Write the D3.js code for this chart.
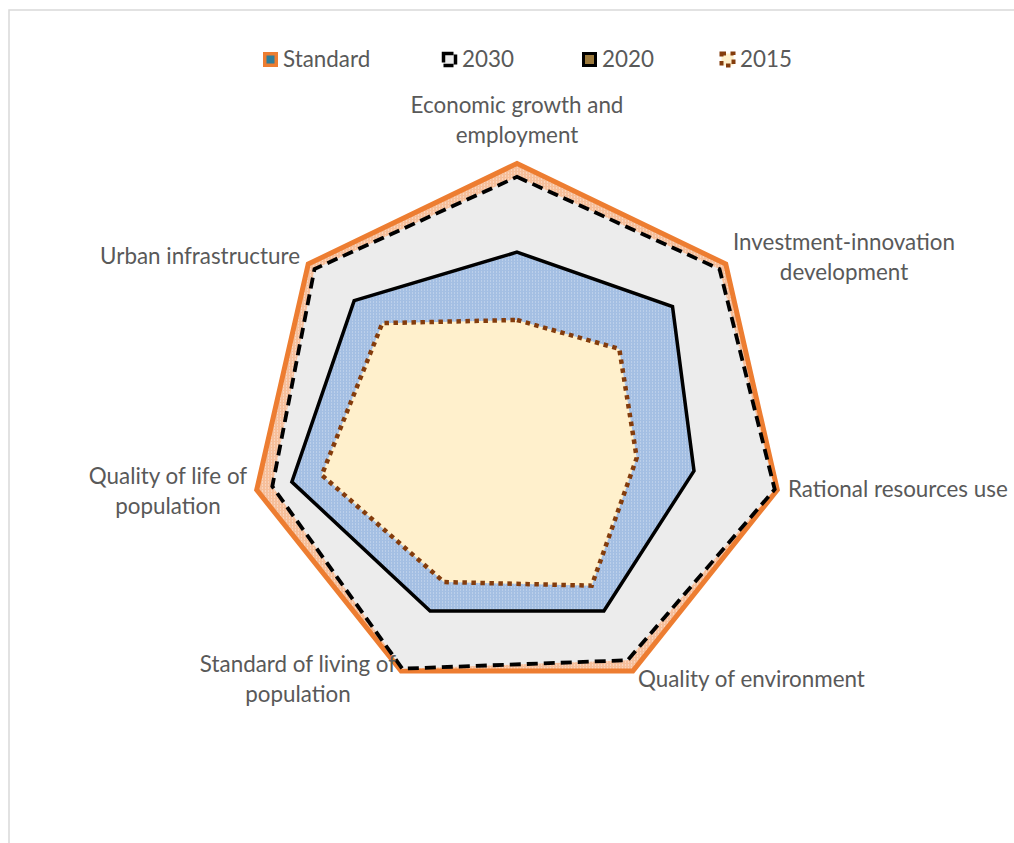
<!DOCTYPE html>
<html>
<head>
<meta charset="utf-8">
<script src="https://cdn.jsdelivr.net/npm/d3@7"></script>
<style>
  html, body { margin: 0; padding: 0; background: #ffffff; }
  svg { display: block; }
  text { font-family: Lato, "Open Sans", sans-serif; fill: #595959; }
</style>
</head>
<body>
<svg id="chart" width="1014" height="843"></svg>
<script>
// Axes of the indicator system, clockwise from the top
const axes = [
  ["Economic growth and", "employment"],
  ["Investment-innovation", "development"],
  ["Rational resources use"],
  ["Quality of environment"],
  ["Standard of living of", "population"],
  ["Quality of life of", "population"],
  ["Urban infrastructure"]
];

const seriesNames = ["Standard", "2030", "2020", "2015"];

// Normalised index values (standard = 1)
const standard = [1.00, 1.00, 1.00, 1.00, 1.00, 1.00, 1.00];
const y2030    = [0.95, 0.97, 0.99, 0.955, 0.99, 0.94, 0.97];
const y2020    = [0.668, 0.745, 0.68, 0.75, 0.75, 0.865, 0.78];
const y2015    = [0.414, 0.49, 0.46, 0.645, 0.63, 0.75, 0.645];

const svg = d3.select("#chart");
const cx = 517, cy = 430.5, R = 267;
const fontSize = "22.4px";

// frame of the chart area
svg.append("path")
  .attr("d", "M9,843 V10 H1014")
  .attr("fill", "none")
  .attr("stroke", "#d9d9d9")
  .attr("stroke-width", 1.5);

const r = d3.scaleLinear().domain([0, 1]).range([0, R]);
const angle = d3.scaleLinear().domain([0, axes.length]).range([0, 2 * Math.PI]);

const radial = d3.lineRadial()
  .angle((d, i) => angle(i))
  .radius(d => r(d))
  .curve(d3.curveLinearClosed);

const g = svg.append("g").attr("transform", `translate(${cx},${cy})`);

// textured fills
const defs = svg.append("defs");
function dotPattern(id, bg, dot) {
  const p = defs.append("pattern").attr("id", id)
    .attr("width", 3).attr("height", 3).attr("patternUnits", "userSpaceOnUse");
  p.append("rect").attr("width", 3).attr("height", 3).attr("fill", bg);
  p.append("rect").attr("width", 1).attr("height", 1).attr("fill", dot);
  return `url(#${id})`;
}
const orangeFill = dotPattern("pStd", "#f6bf9b", "#fde9dc");
const blueFill = dotPattern("p2020", "#a4bfe3", "#d2dff0");

const styles = [
  { data: standard, fill: orangeFill, stroke: "#ed7d31", width: 5, dash: null },
  { data: y2030, fill: "#ececec", stroke: "#000000", width: 3.8, dash: "11,6" },
  { data: y2020, fill: blueFill, stroke: "#000000", width: 3.5, dash: null },
  { data: y2015, fill: "#fff0cc", stroke: "#843c0c", width: 4.5, dash: "4.5,4.5" }
];

styles.forEach(s => {
  g.append("path")
    .attr("d", radial(s.data))
    .attr("fill", s.fill)
    .attr("stroke", s.stroke)
    .attr("stroke-width", s.width)
    .attr("stroke-linejoin", "miter")
    .attr("stroke-dasharray", s.dash);
});

// axis labels
const labelPos = [
  { x: 517, y: 113, anchor: "middle" },
  { x: 844, y: 250, anchor: "middle" },
  { x: 788, y: 497, anchor: "start" },
  { x: 638, y: 687, anchor: "start" },
  { x: 298, y: 672, anchor: "middle" },
  { x: 168, y: 484, anchor: "middle" },
  { x: 300, y: 264, anchor: "end" }
];
axes.forEach((lines, i) => {
  const t = svg.append("text")
    .attr("x", labelPos[i].x)
    .attr("y", labelPos[i].y)
    .attr("text-anchor", labelPos[i].anchor)
    .style("font-size", fontSize);
  lines.forEach((ln, j) => {
    t.append("tspan").attr("x", labelPos[i].x).attr("dy", j === 0 ? 0 : 29.5).text(ln);
  });
});

// legend
const legendX = [263, 442, 582, 720];
const lg = svg.append("g");
seriesNames.forEach((name, i) => {
  const x = legendX[i], y = 52;
  const item = lg.append("g");
  if (i === 0) {
    item.append("rect").attr("x", x).attr("y", y).attr("width", 15).attr("height", 15).attr("fill", "#ed7d31");
    item.append("rect").attr("x", x + 3.5).attr("y", y + 3.5).attr("width", 8).attr("height", 8).attr("fill", "#2e7d9a");
  } else if (i === 1) {
    item.append("rect").attr("x", x + 1.5).attr("y", y + 1.5).attr("width", 12).attr("height", 12)
      .attr("fill", "#ececec").attr("stroke", "#000").attr("stroke-width", 3.5).attr("stroke-dasharray", "10,3");
  } else if (i === 2) {
    item.append("rect").attr("x", x + 1.5).attr("y", y + 1.5).attr("width", 12).attr("height", 12)
      .attr("fill", "#9c7a3c").attr("stroke", "#000").attr("stroke-width", 3);
  } else {
    item.append("rect").attr("x", x + 1.5).attr("y", y + 1.5).attr("width", 12).attr("height", 12)
      .attr("fill", "#fff0cc").attr("stroke", "#843c0c").attr("stroke-width", 4).attr("stroke-dasharray", "4.5,4.5");
  }
  item.append("text").attr("x", x + 20).attr("y", y + 15).style("font-size", fontSize).text(name);
});
</script>
</body>
</html>
